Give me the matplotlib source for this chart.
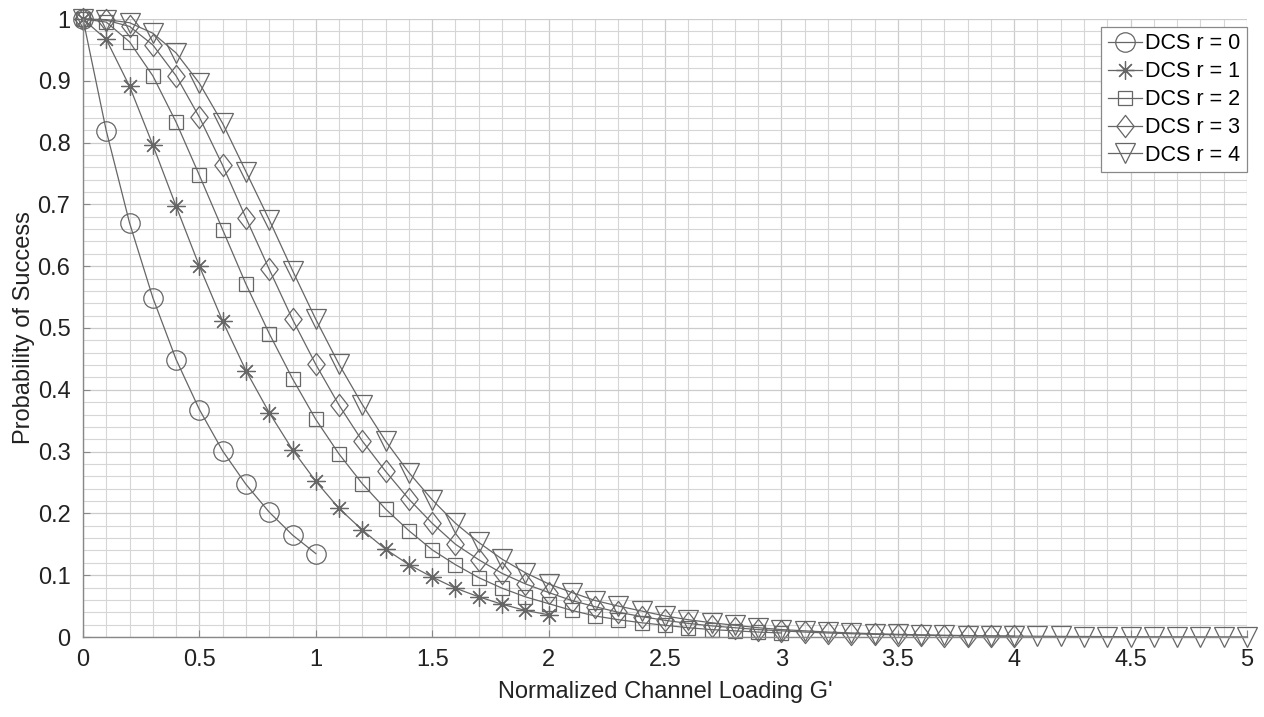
import numpy as np
import matplotlib

matplotlib.use("Agg")
import matplotlib.pyplot as plt
from matplotlib.path import Path

plt.rcParams["font.family"] = ["Liberation Sans", "DejaVu Sans"]

# normalized channel loading, sampled every 0.1
g_r0 = np.round(np.arange(0, 1.01, 0.1), 1)
g_r1 = np.round(np.arange(0, 2.01, 0.1), 1)
g_r2 = np.round(np.arange(0, 3.01, 0.1), 1)
g_r3 = np.round(np.arange(0, 4.01, 0.1), 1)
g_r4 = np.round(np.arange(0, 5.01, 0.1), 1)

# probability of success
p_r0 = [1.0, 0.819, 0.670, 0.549, 0.449, 0.368, 0.301, 0.247, 0.202, 0.165, 0.135]
p_r1 = [1.0, 0.967, 0.891, 0.796, 0.697, 0.600, 0.511, 0.431, 0.363, 0.303, 0.252,
        0.208, 0.173, 0.142, 0.117, 0.097, 0.079, 0.065, 0.053, 0.043, 0.036]
p_r2 = [1.0, 0.995, 0.963, 0.908, 0.833, 0.747, 0.659, 0.571, 0.491, 0.418, 0.352,
        0.296, 0.248, 0.207, 0.172, 0.141, 0.117, 0.096, 0.079, 0.065, 0.054,
        0.043, 0.034, 0.028, 0.023, 0.019, 0.015, 0.012, 0.010, 0.008, 0.0065]
p_r3 = [1.0, 0.998, 0.988, 0.958, 0.908, 0.841, 0.763, 0.678, 0.595, 0.514, 0.441,
        0.375, 0.317, 0.268, 0.223, 0.184, 0.150, 0.125, 0.103, 0.086, 0.072,
        0.059, 0.049, 0.040, 0.033, 0.027, 0.022, 0.018, 0.015, 0.012, 0.010,
        0.008, 0.0065, 0.0053, 0.0043, 0.0035, 0.0028, 0.0023, 0.0018, 0.0015, 0.0012]
p_r4 = [1.0, 0.999, 0.994, 0.977, 0.945, 0.896, 0.831, 0.753, 0.675, 0.593, 0.514,
        0.441, 0.376, 0.317, 0.266, 0.222, 0.184, 0.153, 0.126, 0.104, 0.086,
        0.072, 0.059, 0.050, 0.042, 0.034, 0.028, 0.023, 0.019, 0.015, 0.012,
        0.010, 0.008, 0.0066, 0.0053, 0.0043, 0.0035, 0.0028, 0.0023, 0.0018, 0.0015,
        0.0012, 0.0010, 0.0008, 0.00065, 0.0005, 0.0004, 0.0003, 0.00025, 0.0002, 0.00015]

labels = ["DCS r = 0", "DCS r = 1", "DCS r = 2", "DCS r = 3", "DCS r = 4"]

# MATLAB-like marker shapes
diamond = Path([(0, 1), (0.78, 0), (0, -1), (-0.78, 0), (0, 1)],
               [Path.MOVETO, Path.LINETO, Path.LINETO, Path.LINETO, Path.CLOSEPOLY])
series = [
    (g_r0, p_r0, "o", 14),
    (g_r1, p_r1, (8, 2, 0), 13),
    (g_r2, p_r2, "s", 10),
    (g_r3, p_r3, diamond, 16),
    (g_r4, p_r4, "v", 15),
]

gray = "#666666"

fig = plt.figure(figsize=(12.64, 7.17), dpi=100)
ax = fig.add_axes([83 / 1264, 1 - 637 / 717, (1247 - 83) / 1264, (637 - 19) / 717])

for (g, p, marker, ms), label in zip(series, labels):
    ax.plot(g, p, color=gray, lw=0.9, marker=marker, ms=ms, mfc="none",
            mec=gray, mew=0.9, label=label, clip_on=False)

ax.set_xlim(0, 5)
ax.set_ylim(0, 1)
ax.set_xticks(np.arange(0, 5.01, 0.5))
ax.set_xticklabels(["0", "0.5", "1", "1.5", "2", "2.5", "3", "3.5", "4", "4.5", "5"])
ax.set_yticks(np.arange(0, 1.01, 0.1))
ax.set_yticklabels(["0", "0.1", "0.2", "0.3", "0.4", "0.5", "0.6", "0.7", "0.8", "0.9", "1"])
ax.set_xticks(np.arange(0, 5.01, 0.1), minor=True)
ax.set_yticks(np.arange(0, 1.001, 0.02), minor=True)
ax.grid(which="major", color="#cccccc", lw=0.9)
ax.grid(which="minor", color="#d6d6d6", lw=0.8)
ax.set_axisbelow(True)
ax.tick_params(which="both", direction="in", labelsize=17, colors="#222222")
ax.tick_params(axis="x", which="major", pad=9)
ax.tick_params(axis="y", which="major", pad=9)
ax.tick_params(which="major", length=5, color="#888888")
ax.tick_params(which="minor", length=0)
for side in ["top", "right"]:
    ax.spines[side].set_visible(False)
for side in ["left", "bottom"]:
    ax.spines[side].set_color("#888888")
    ax.spines[side].set_linewidth(1.0)

ax.set_xlabel("Normalized Channel Loading G'", fontsize=17, color="#222222", labelpad=7)
ax.set_ylabel("Probability of Success", fontsize=17, color="#222222", labelpad=2)

leg = ax.legend(loc="upper right", bbox_to_anchor=(1.0, 1 - 8 / 618), borderaxespad=0,
                fontsize=15.5, frameon=True, fancybox=False, framealpha=1,
                edgecolor="#888888", handlelength=1.6, handletextpad=0.15,
                labelspacing=0.32, borderpad=0.3)
leg.get_frame().set_linewidth(0.9)

fig.savefig("out.png", dpi=100)
